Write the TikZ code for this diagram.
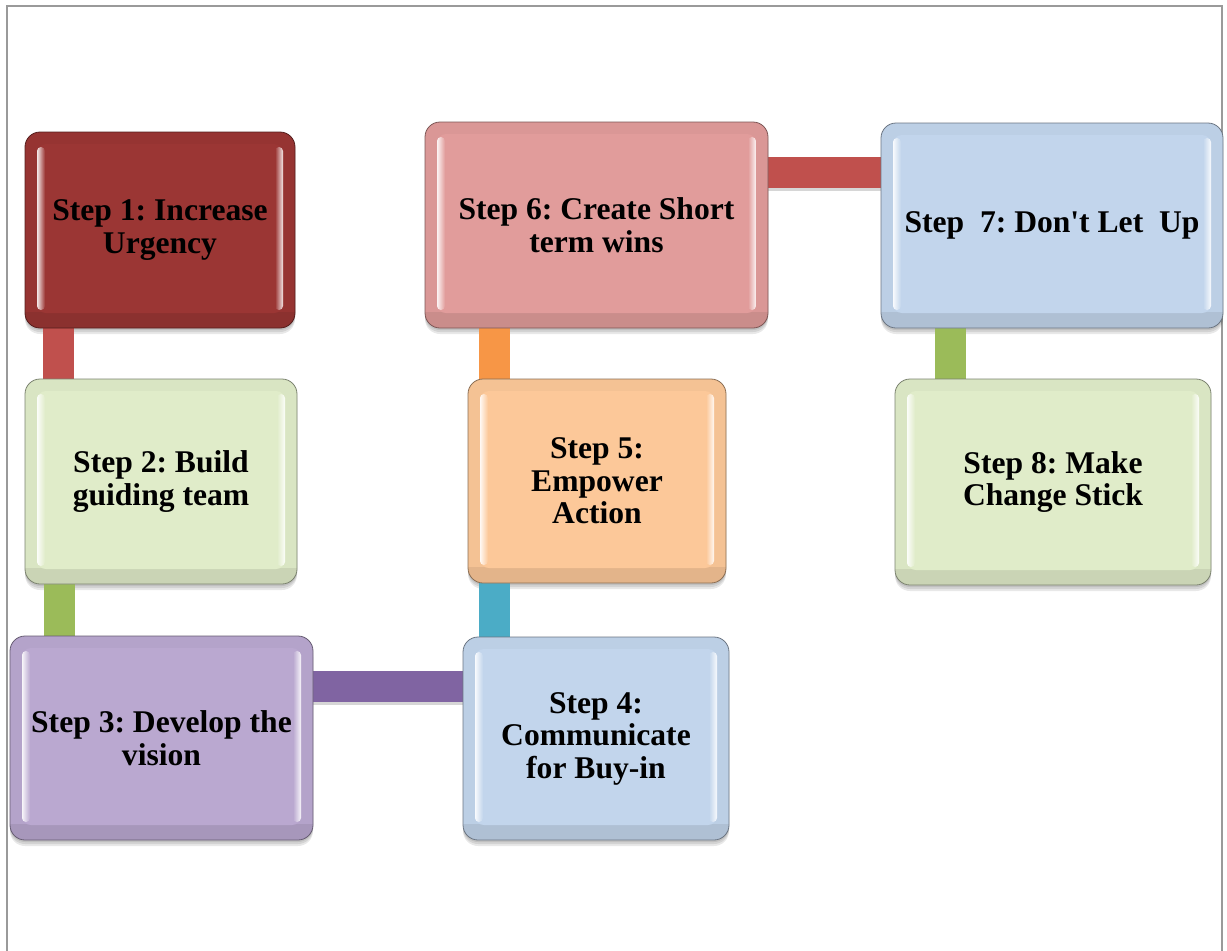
\documentclass[tikz,border=0pt]{standalone}
\usepackage{fontspec}
\setmainfont{Liberation Serif}[Ligatures=TeXOff]
\usetikzlibrary{calc}
\frenchspacing

% box fills
\definecolor{urgency}{HTML}{9B3634}
\definecolor{palegreen}{HTML}{E0ECC9}
\definecolor{lilac}{HTML}{BAA8D0}
\definecolor{paleblue}{HTML}{C2D5EC}
\definecolor{apricot}{HTML}{FCC899}
\definecolor{rosepink}{HTML}{E19C9B}
% link colours
\definecolor{linkred}{HTML}{C0504D}
\definecolor{linkgreen}{HTML}{9BBB59}
\definecolor{linkpurple}{HTML}{8064A2}
\definecolor{linkcyan}{HTML}{4BACC6}
\definecolor{linkorange}{HTML}{F79646}
\definecolor{framegray}{HTML}{9A9A9A}

\pgfdeclarelayer{shadowlayer}
\pgfdeclarelayer{linklayer}
\pgfsetlayers{shadowlayer,linklayer,main}

\tikzset{
  stepbox/.style={
    rectangle, rounded corners=15pt, fill=#1!97!black, draw=#1!55!black,
    line width=0.8pt, inner sep=0pt, outer sep=0pt, align=center,
    text=black, font=\fontsize{31.6}{32.5}\selectfont\bfseries,
    path picture={
      % darker lower bevel
      \fill[sharp corners, #1!90!black]
        ([yshift=16pt]path picture bounding box.south west) rectangle
        (path picture bounding box.south east);
      % flat face inside the bevel
      \fill[#1, rounded corners=9pt]
        ([xshift=12pt,yshift=-12pt]path picture bounding box.north west) rectangle
        ([xshift=-12pt,yshift=15pt]path picture bounding box.south east);
      % glints along the left and right edges of the face
      \shade[rounded corners=4pt, left color=#1!12!white, right color=#1]
        ([xshift=12pt,yshift=-15pt]path picture bounding box.north west) rectangle
        ([xshift=20pt,yshift=18pt]path picture bounding box.south west);
      \shade[rounded corners=4pt, left color=#1, right color=#1!12!white]
        ([xshift=-20pt,yshift=-15pt]path picture bounding box.north east) rectangle
        ([xshift=-12pt,yshift=18pt]path picture bounding box.south east);
    }
  },
  boxshadow/.style={fill=black, opacity=0.09, rounded corners=15pt},
  link/.style={line width=31pt, draw=#1},
  linkshadow/.style={line width=31pt, draw=black, opacity=0.16},
}

% place one step box together with its soft shadow
\newcommand\placestep[7]{%
  \node[stepbox=#6, minimum width={#4-#2}, minimum height={#5-#3}]
    (#1) at ({(#2+#4)/2},{(#3+#5)/2}) {#7};
  \begin{pgfonlayer}{shadowlayer}
    \foreach \d in {2,4,6}{
      \path[boxshadow] ([yshift=-\d pt]#1.north west) rectangle ([yshift=-\d pt]#1.south east);
    }
  \end{pgfonlayer}
}

% link between two boxes, with a faint shadow underneath
\newcommand\steplink[3]{%
  \begin{pgfonlayer}{linklayer}
    \draw[linkshadow] ([yshift=-3pt]#2) -- ([yshift=-3pt]#3);
    \draw[link=#1] (#2) -- (#3);
  \end{pgfonlayer}
}

\begin{document}
\begin{tikzpicture}[x=1pt,y=-1pt]
  \useasboundingbox (0,0) rectangle (1227,951);

  % page frame (open at the bottom)
  \begin{pgfonlayer}{shadowlayer}
    \draw[framegray, line width=2pt] (7,951) -- (7,6) -- (1222,6) -- (1222,951);
  \end{pgfonlayer}

  \placestep{s1}{25}{132}{295}{328}{urgency}{Step 1: Increase\\Urgency}
  \placestep{s2}{25}{379}{297}{584}{palegreen}{Step 2: Build\\guiding team}
  \placestep{s3}{10}{636}{313}{840}{lilac}{Step 3: Develop the\\vision}
  \placestep{s4}{463}{637}{729}{840}{paleblue}{Step 4:\\Communicate\\for Buy-in}
  \placestep{s5}{468}{379}{726}{583}{apricot}{Step 5:\\Empower\\Action}
  \placestep{s6}{425}{122}{768}{328}{rosepink}{Step 6: Create Short\\term wins}
  \placestep{s7}{881}{123}{1223}{328}{paleblue}{Step\ \ 7: Don't Let\ \ Up}
  \placestep{s8}{895}{379}{1211}{585}{palegreen}{Step 8: Make\\Change Stick}

  \steplink{linkred}{$(s1.south west)+(33.5,-5)$}{$(s2.north west)+(33.5,5)$}
  \steplink{linkgreen}{$(s2.south west)+(34,-5)$}{$(s3.north west)+(49,5)$}
  \steplink{linkpurple}{$(s3.north east)+(-5,50.5)$}{$(s4.north west)+(5,49.5)$}
  \steplink{linkcyan}{$(s4.north west)+(31.5,5)$}{$(s5.south west)+(26.5,-5)$}
  \steplink{linkorange}{$(s5.north west)+(26.5,5)$}{$(s6.south west)+(69.5,-5)$}
  \steplink{linkred}{$(s6.north east)+(-5,50)$}{$(s7.north west)+(5,49)$}
  \steplink{linkgreen}{$(s7.south west)+(69.5,-5)$}{$(s8.north west)+(55.5,5)$}
\end{tikzpicture}
\end{document}
